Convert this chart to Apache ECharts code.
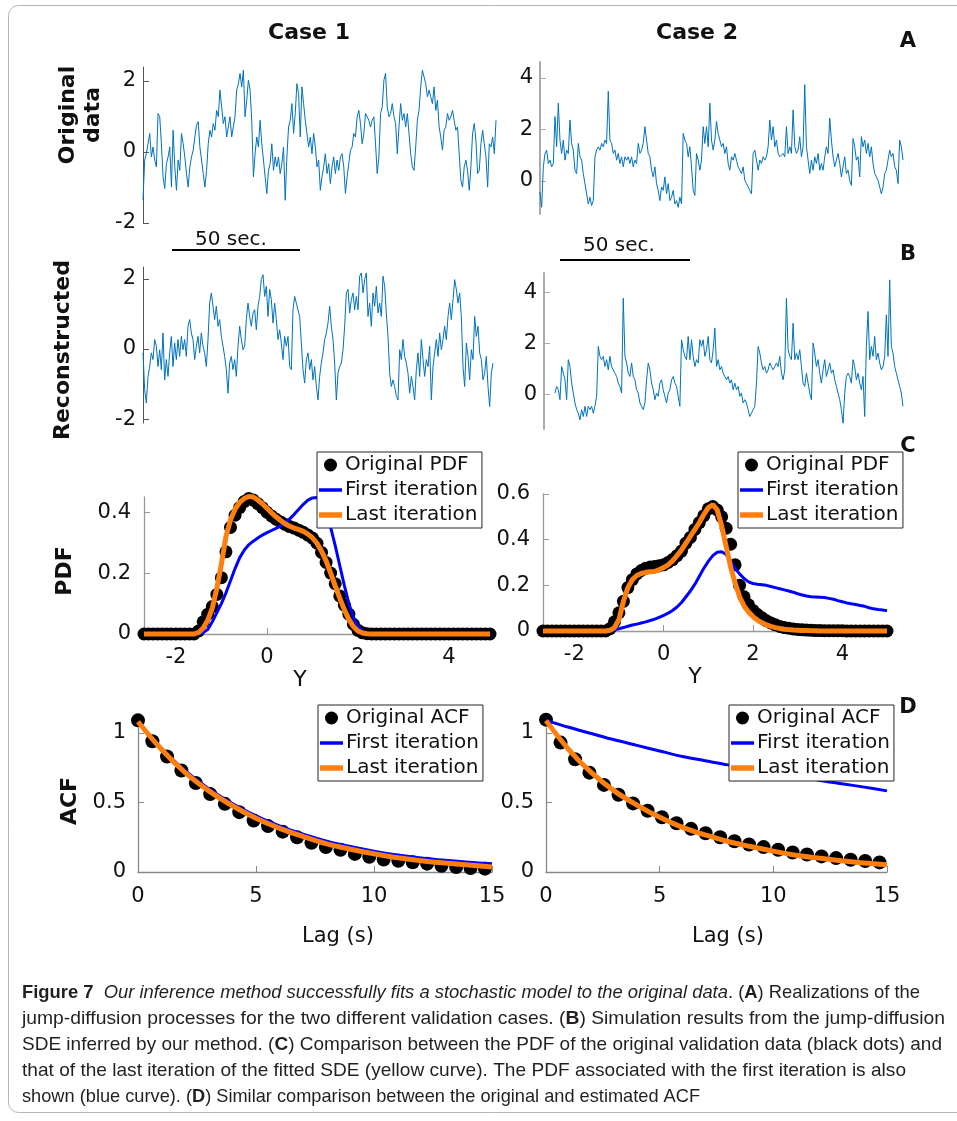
<!DOCTYPE html>
<html><head><meta charset="utf-8">
<script src="https://cdn.jsdelivr.net/npm/echarts@6.0.0/dist/echarts.min.js"></script>
<style>html,body{margin:0;padding:0;background:#fff}#c{width:957px;height:1121px}</style>
</head><body><div id="c"></div>
<script>
// ---------------- DATA ----------------
// (A) original time series, case 1 and case 2 (evenly sampled)
const tsOrig1 = [-1.36,-0.23,-0.05,0.23,0.52,-0.14,0.14,-0.23,-0.42,1.08,0.99,0.23,-0.70,-1.03,-0.33,-0.14,0.14,-0.99,0.61,-0.42,-1.08,-0.23,-0.52,0.52,0.23,-0.14,-0.61,-0.99,-0.42,-0.14,0.05,0.42,0.75,0.85,0.14,-0.23,-0.61,-0.99,-0.52,0.23,0.61,0.42,0.80,0.61,1.17,0.99,1.74,1.27,0.80,0.99,0.42,0.70,0.99,0.42,0.42,0.99,1.74,1.92,2.21,1.83,2.30,0.99,1.46,2.02,1.74,0.89,-0.70,-0.05,0.42,0.14,0.89,0.23,-0.23,-0.70,-1.17,-0.52,-0.33,0.23,-0.52,-0.14,-0.42,-0.14,-0.61,-0.33,0.14,-1.36,-0.14,0.70,0.89,1.36,0.52,1.08,1.92,1.64,0.42,1.83,1.36,0.89,0.52,0.14,0.42,-0.05,0.52,0.14,-0.42,-0.23,-1.08,-0.70,-0.42,-0.05,-0.61,-0.33,-0.89,-0.42,-0.14,-0.61,-0.23,-0.52,-0.14,-0.05,-0.42,-1.17,-0.70,-0.33,0.05,0.14,0.52,0.42,0.99,1.17,0.80,0.23,0.52,1.08,0.99,0.89,0.70,0.89,0.99,0.23,-0.61,-0.14,1.08,1.27,2.02,2.21,1.27,0.99,1.08,1.36,0.99,0.80,-0.05,0.70,1.36,0.89,1.08,0.70,1.08,0.52,-0.05,-0.42,-0.52,0.14,0.89,1.17,1.83,2.30,2.11,1.92,1.55,1.74,1.55,1.36,1.83,1.17,1.46,0.70,0.42,0.05,0.61,0.70,1.08,0.89,0.99,1.17,0.89,0.61,0.70,-0.05,-0.80,-0.99,-0.42,-0.23,-0.52,-1.08,-0.42,0.52,0.80,0.33,-0.61,-0.52,0.23,0.61,0.23,-0.14,-0.99,0.23,0.14,0.42,-0.05,0.89];
const tsOrig2 = [-0.43,-1.02,0.55,1.07,1.20,0.68,0.81,0.55,0.68,2.50,1.33,3.02,1.59,1.07,1.59,0.81,1.20,1.07,2.37,1.46,1.20,0.42,0.29,1.46,0.94,0.81,0.29,-0.10,-0.50,-0.89,-0.63,-0.95,-0.76,0.94,1.20,1.33,1.20,1.46,1.33,1.59,1.46,3.48,1.59,1.46,1.07,1.20,0.81,1.07,0.68,0.94,0.55,0.94,0.81,0.94,0.68,0.94,0.55,0.81,0.68,1.46,1.07,1.20,1.46,2.11,1.59,1.07,0.94,0.42,0.16,0.55,-0.10,-0.36,-0.76,-0.23,-0.36,0.16,-0.50,-0.10,-0.76,-0.63,-0.36,-0.89,-0.76,-1.02,-0.63,-0.89,1.85,1.59,1.46,0.94,1.33,0.55,-0.36,-0.56,1.07,0.81,0.42,0.81,2.11,1.46,2.11,1.33,3.02,1.59,1.20,1.59,2.31,1.85,1.59,1.33,1.46,1.07,1.33,0.68,0.42,0.94,0.81,1.07,0.81,0.55,0.42,0.29,0.55,0.03,-0.10,-0.23,-0.36,-0.50,1.07,1.20,0.81,0.42,0.81,0.68,0.94,0.81,0.94,1.33,2.37,1.59,2.11,1.33,1.59,1.07,0.94,0.94,1.07,0.94,2.11,1.07,1.33,1.07,2.76,1.33,1.07,1.20,1.72,0.94,1.33,3.74,1.33,0.81,0.29,0.81,0.42,0.94,0.68,1.07,0.42,0.68,0.42,0.94,1.33,1.07,2.44,1.59,0.94,0.55,0.81,1.07,0.68,0.16,0.55,0.94,0.29,0.42,0.03,-0.17,1.65,1.33,0.81,0.94,0.16,1.72,1.33,1.59,1.07,1.46,0.94,1.33,0.68,0.29,0.16,0.03,-0.23,-0.50,-0.23,0.29,0.42,0.81,1.20,0.94,1.07,0.55,0.42,-0.10,1.59,1.33,0.81];
// (B) reconstructed time series
const tsRec1 = [-0.11,-1.16,-1.54,-0.78,-0.50,-0.11,-0.30,0.27,0.08,-0.50,-0.02,-0.59,0.46,-0.88,-0.30,-0.78,-0.11,0.36,-0.50,0.17,-0.30,0.27,-0.21,0.36,-0.02,0.27,-0.21,0.65,0.84,0.46,0.27,-0.30,0.08,0.36,-0.11,0.46,0.08,-0.11,-0.50,0.27,1.31,1.60,1.22,0.84,1.22,0.65,0.84,0.36,0.08,-0.21,-0.59,-1.26,-0.40,-0.21,-0.59,-0.30,-0.78,0.08,0.65,0.27,-0.02,0.08,0.84,1.31,0.93,0.65,1.03,1.12,0.55,1.22,1.50,1.98,2.12,1.50,1.79,0.93,1.70,1.41,0.74,1.31,0.84,0.27,0.55,0.17,-0.30,0.36,0.08,0.36,-0.50,-0.59,1.12,1.50,1.31,1.12,0.93,0.17,-0.59,-0.97,-0.30,-0.11,-0.59,-0.30,-0.88,-0.50,-1.07,-1.45,-0.78,-0.40,-0.11,0.27,0.46,0.74,1.22,0.65,0.27,-0.40,-1.45,-0.69,-0.50,-0.40,-0.02,0.65,1.60,1.70,1.03,1.41,1.60,1.12,1.50,1.12,2.08,2.17,1.60,1.98,2.17,0.93,1.31,0.65,1.60,1.22,1.79,1.03,1.31,0.93,2.08,1.79,1.03,0.36,-0.69,-1.07,-0.88,-1.07,-1.35,-1.45,-0.02,-0.30,0.27,-0.21,-0.40,-0.69,-1.26,-0.78,-1.07,-1.45,-0.59,-0.11,-0.78,0.27,-0.30,-0.78,-0.30,-0.50,0.08,-1.45,-0.50,-0.11,0.27,-0.21,0.46,-0.02,0.27,0.65,0.27,0.93,1.31,0.84,1.41,1.98,1.70,1.31,1.60,0.93,-0.50,-1.07,0.17,-0.21,-0.88,-0.02,-0.30,0.93,0.36,0.65,-0.11,-0.30,-0.88,-0.69,-0.21,-1.07,-1.64,-0.69,-0.40];
const tsRec2 = [0.04,0.30,0.17,-0.22,1.08,0.82,0.56,-0.22,1.35,1.08,0.43,0.04,-0.35,-0.61,-0.75,-1.01,-0.61,-0.88,-0.48,-0.88,-0.48,-0.61,-0.48,-0.75,-0.48,-0.09,1.87,1.48,1.35,1.48,1.08,1.35,0.95,1.48,1.08,0.95,0.82,0.69,0.43,0.30,0.04,3.76,1.48,1.22,0.82,0.69,1.22,0.69,0.56,0.17,0.04,-0.35,-0.48,-0.61,-0.35,0.56,1.22,0.95,0.43,0.17,-0.22,0.04,-0.09,0.43,0.56,0.17,-0.09,-0.35,0.04,0.17,0.56,0.69,0.43,0.30,-0.09,-0.48,2.13,1.74,1.48,1.35,2.26,1.35,2.13,1.48,1.08,1.35,1.22,2.13,1.87,2.13,1.48,1.74,2.26,1.35,1.22,1.74,2.59,1.08,1.35,0.95,1.08,0.82,0.69,0.56,0.69,0.43,0.56,0.17,0.43,0.17,0.30,-0.09,0.04,-0.35,-0.22,-0.35,-0.61,-0.88,-0.75,-0.61,-0.48,0.43,1.87,1.61,1.22,0.95,1.08,0.82,0.95,1.22,1.08,0.95,1.08,1.22,1.08,1.48,0.82,0.56,0.95,3.76,1.74,1.48,1.35,2.78,1.35,1.61,1.35,1.74,1.08,0.43,0.30,0.82,0.43,0.04,-0.22,2.00,1.61,1.08,1.35,0.82,0.43,0.95,1.35,0.69,0.95,1.22,0.82,0.95,0.56,0.30,0.04,-0.22,-0.61,-1.14,0.04,0.69,0.82,0.69,0.43,1.35,1.08,0.56,0.82,0.43,0.17,0.69,-0.88,1.87,3.24,1.35,1.87,1.48,2.26,1.35,1.61,1.22,0.95,1.08,1.48,3.11,1.48,4.48,1.87,1.61,1.08,0.82,0.56,0.30,0.04,-0.48];
// (C) PDF
const pdfX1 = [-2.7,-2.6,-2.5,-2.4,-2.3,-2.2,-2.1,-2.0,-1.9,-1.8,-1.7,-1.6,-1.5,-1.4,-1.3,-1.2,-1.1,-1.0,-0.9,-0.8,-0.7,-0.6,-0.5,-0.4,-0.3,-0.2,-0.1,0,0.1,0.2,0.3,0.4,0.5,0.6,0.7,0.8,0.9,1.0,1.1,1.2,1.3,1.4,1.5,1.6,1.7,1.8,1.9,2.0,2.1,2.2,2.3,2.4,2.5,2.6,2.7,2.8,2.9,3.0,3.1,3.2,3.3,3.4,3.5,3.6,3.7,3.8,3.9,4.0,4.1,4.2,4.3,4.4,4.5,4.6,4.7,4.8,4.9];
const pdfOrig1 = [0,0,0,0,0,0,0,0,0,0,0,0,0.01,0.04,0.065,0.09,0.13,0.185,0.27,0.35,0.39,0.415,0.435,0.445,0.44,0.428,0.415,0.4,0.388,0.377,0.368,0.36,0.353,0.348,0.341,0.334,0.325,0.315,0.298,0.268,0.235,0.2,0.165,0.125,0.095,0.065,0.032,0.012,0.004,0.001,0,0,0,0,0,0,0,0,0,0,0,0,0,0,0,0,0,0,0,0,0,0,0,0,0,0,0];
const pdfFirst1 = [0,0,0,0,0,0,0,0,0,0,0,0,0,0.005,0.015,0.04,0.07,0.1,0.135,0.175,0.215,0.25,0.275,0.293,0.305,0.315,0.325,0.333,0.34,0.347,0.355,0.365,0.378,0.393,0.41,0.426,0.44,0.447,0.448,0.435,0.4,0.35,0.29,0.225,0.16,0.1,0.055,0.025,0.01,0.003,0.001,0,0,0,0,0,0,0,0,0,0,0,0,0,0,0,0,0,0,0,0,0,0,0,0,0,0];
const pdfLast1 = [0,0,0,0,0,0,0,0,0,0,0,0,0.005,0.02,0.045,0.085,0.15,0.23,0.32,0.375,0.41,0.432,0.445,0.452,0.45,0.44,0.428,0.413,0.398,0.385,0.373,0.362,0.354,0.348,0.343,0.337,0.328,0.316,0.298,0.272,0.24,0.2,0.158,0.118,0.08,0.048,0.024,0.01,0.003,0.001,0,0,0,0,0,0,0,0,0,0,0,0,0,0,0,0,0,0,0,0,0,0,0,0,0,0,0];
const pdfX2 = [-2.7,-2.6,-2.5,-2.4,-2.3,-2.2,-2.1,-2.0,-1.9,-1.8,-1.7,-1.6,-1.5,-1.4,-1.3,-1.2,-1.1,-1.0,-0.9,-0.8,-0.7,-0.6,-0.5,-0.4,-0.3,-0.2,-0.1,0,0.1,0.2,0.3,0.4,0.5,0.6,0.7,0.8,0.9,1.0,1.1,1.2,1.3,1.4,1.5,1.6,1.7,1.8,1.9,2.0,2.1,2.2,2.3,2.4,2.5,2.6,2.7,2.8,2.9,3.0,3.1,3.2,3.3,3.4,3.5,3.6,3.7,3.8,3.9,4.0,4.1,4.2,4.3,4.4,4.5,4.6,4.7,4.8,4.9,5.0];
const pdfOrig2 = [0,0,0,0,0,0,0,0,0,0,0,0,0,0,0,0.01,0.04,0.08,0.13,0.19,0.225,0.25,0.265,0.275,0.28,0.283,0.286,0.29,0.3,0.313,0.33,0.35,0.385,0.41,0.445,0.475,0.505,0.535,0.545,0.53,0.5,0.45,0.38,0.29,0.2,0.15,0.115,0.09,0.072,0.058,0.045,0.035,0.027,0.02,0.015,0.012,0.009,0.007,0.005,0.004,0.003,0.002,0.002,0.001,0.001,0.001,0.001,0.001,0,0,0,0,0,0,0,0,0,0];
const pdfFirst2 = [0,0,0,0,0,0,0,0,0,0,0,0,0,0,0,0.001,0.005,0.01,0.015,0.021,0.026,0.03,0.035,0.04,0.046,0.052,0.06,0.068,0.078,0.09,0.105,0.125,0.15,0.175,0.205,0.24,0.275,0.305,0.33,0.345,0.347,0.335,0.305,0.275,0.25,0.23,0.215,0.208,0.205,0.203,0.2,0.195,0.19,0.185,0.18,0.175,0.17,0.163,0.158,0.153,0.15,0.149,0.148,0.147,0.143,0.139,0.133,0.128,0.123,0.119,0.116,0.112,0.108,0.102,0.097,0.094,0.092,0.089];
const pdfLast2 = [0,0,0,0,0,0,0,0,0,0,0,0,0,0,0,0.003,0.015,0.05,0.13,0.19,0.225,0.243,0.252,0.257,0.259,0.261,0.268,0.278,0.29,0.307,0.33,0.355,0.385,0.415,0.445,0.475,0.51,0.54,0.553,0.53,0.46,0.37,0.28,0.21,0.15,0.11,0.083,0.063,0.048,0.036,0.027,0.02,0.015,0.011,0.008,0.006,0.004,0.003,0.002,0.002,0.001,0.001,0,0,0,0,0,0,0,0,0,0,0,0,0,0,0,0];
// (D) ACF
const acfLag1 = [0,0.61,1.23,1.84,2.45,3.06,3.68,4.29,4.9,5.51,6.13,6.74,7.35,7.96,8.58,9.19,9.8,10.41,11.03,11.64,12.25,12.86,13.48,14.09,14.7];
const acfOrig1 = [1.09,0.94,0.83,0.73,0.64,0.56,0.49,0.43,0.37,0.33,0.29,0.25,0.21,0.18,0.16,0.13,0.11,0.09,0.08,0.07,0.06,0.045,0.036,0.029,0.024];
const acfLag2 = [0,0.64,1.28,1.91,2.55,3.19,3.83,4.47,5.1,5.74,6.38,7.02,7.66,8.29,8.93,9.57,10.21,10.85,11.48,12.12,12.76,13.4,14.04,14.67];
const acfOrig2 = [1.095,0.93,0.81,0.714,0.626,0.555,0.493,0.44,0.393,0.35,0.31,0.279,0.25,0.221,0.198,0.179,0.16,0.14,0.126,0.112,0.1,0.088,0.079,0.069];
const acfLineLag = [0,1,2,3,4,5,6,7,8,9,10,11,12,13,14,15];
const acfFirst1 = [1.08,0.89,0.728,0.598,0.492,0.403,0.331,0.272,0.222,0.183,0.15,0.123,0.101,0.084,0.07,0.06];
const acfLast1 = [1.08,0.88,0.714,0.583,0.476,0.386,0.314,0.255,0.202,0.164,0.131,0.102,0.081,0.064,0.05,0.036];
const acfFirst2 = [1.09,1.04,0.995,0.95,0.91,0.87,0.83,0.80,0.77,0.745,0.715,0.69,0.66,0.635,0.61,0.583];
const acfLast2 = [1.088,0.88,0.714,0.583,0.481,0.393,0.321,0.267,0.219,0.183,0.15,0.121,0.1,0.081,0.064,0.052];
// tick labels
const tsTicks1 = [-2, 0, 2];
const tsTicks2 = [0, 2, 4];
const pdfXTicks = [-2, 0, 2, 4];
const pdfYTicks1 = [0, 0.2, 0.4];
const pdfYTicks2 = [0, 0.2, 0.4, 0.6];
const acfXTicks = [0, 5, 10, 15];
const acfYTicks = [0, 0.5, 1];
const legendPDF = ['Original PDF', 'First iteration', 'Last iteration'];
const legendACF = ['Original ACF', 'First iteration', 'Last iteration'];

// ---------------- CHART ----------------
const FONT = 'DejaVu Sans';
const TS_COLOR = '#0072BD', BLUE = '#0000FF', ORANGE = '#FF7F0E';
const chart = echarts.init(document.getElementById('c'), null, {renderer: 'canvas'});

const grids = [
  {left: 143, top: 67, width: 353, height: 156},
  {left: 540, top: 62, width: 363, height: 152},
  {left: 143, top: 267, width: 350, height: 156},
  {left: 544, top: 273, width: 359, height: 156},
  {left: 144, top: 497, width: 346, height: 137},
  {left: 543, top: 494, width: 344, height: 137},
  {left: 138, top: 728, width: 354, height: 144},
  {left: 546, top: 728, width: 341, height: 144}
];

function valAxis(gi, min, max, ticks, color, lw, margin) {
  return {
    type: 'value', gridIndex: gi, min: min, max: max,
    axisLine: {show: true, onZero: false, lineStyle: {color: color, width: lw}},
    axisTick: {show: true, inside: true, length: 6, customValues: ticks, lineStyle: {color: color, width: 1}},
    axisLabel: {show: true, customValues: ticks, margin: margin, color: '#111', fontSize: 21, fontFamily: FONT},
    splitLine: {show: false}
  };
}
function hiddenX(gi, min, max) {
  return {type: 'value', gridIndex: gi, min: min, max: max, show: false, splitLine: {show: false}};
}
const yAxes = [
  valAxis(0, -2, 2.39, tsTicks1, '#555', 1, 7),
  valAxis(1, -1.28, 4.62, tsTicks2, '#aaa', 2, 7),
  valAxis(2, -2.11, 2.34, tsTicks1, '#555', 1, 7),
  valAxis(3, -1.37, 4.75, tsTicks2, '#aaa', 2, 7),
  valAxis(4, 0, 0.45, pdfYTicks1, '#999', 1.3, 13),
  valAxis(5, 0, 0.6, pdfYTicks2, '#999', 1.3, 13),
  valAxis(6, 0, 1.035, acfYTicks, '#888', 1.3, 12),
  valAxis(7, 0, 1.035, acfYTicks, '#888', 1.3, 12)
];
const xAxes = [
  hiddenX(0, 0, tsOrig1.length - 1),
  hiddenX(1, 0, tsOrig2.length - 1),
  hiddenX(2, 0, tsRec1.length - 1),
  hiddenX(3, -6.6, tsRec2.length - 1),
  valAxis(4, -2.7, 4.9, pdfXTicks, '#999', 1.3, 13),
  valAxis(5, -2.7, 5.0, pdfXTicks, '#999', 1.3, 13),
  valAxis(6, 0, 15, acfXTicks, '#888', 1.3, 14),
  valAxis(7, 0, 15, acfXTicks, '#888', 1.3, 14)
];

function pairs(xs, ys) { return ys.map((v, i) => [xs[i], v]); }
function idx(ys) { return ys.map((v, i) => [i, v]); }
function tsSeries(name, gi, ys) {
  return {type: 'line', name: name, xAxisIndex: gi, yAxisIndex: gi, data: idx(ys), symbol: 'none',
    lineStyle: {color: TS_COLOR, width: 1}, itemStyle: {color: TS_COLOR}, silent: true};
}
function dots(name, gi, xs, ys, size) {
  return {type: 'scatter', name: name, xAxisIndex: gi, yAxisIndex: gi, data: pairs(xs, ys), symbol: 'circle',
    symbolSize: size, itemStyle: {color: '#000', opacity: 1}, clip: false, silent: true};
}
function curve(name, gi, xs, ys, color, w, smooth) {
  return {type: 'line', name: name, xAxisIndex: gi, yAxisIndex: gi, data: pairs(xs, ys), symbol: 'none',
    smooth: smooth ? 0.35 : false, lineStyle: {color: color, width: w}, itemStyle: {color: color}, clip: false, silent: true};
}

const series = [
  tsSeries('Original data, case 1', 0, tsOrig1),
  tsSeries('Original data, case 2', 1, tsOrig2),
  tsSeries('Reconstructed, case 1', 2, tsRec1),
  tsSeries('Reconstructed, case 2', 3, tsRec2),
  dots('Original PDF', 4, pdfX1, pdfOrig1, 13),
  curve('First iteration', 4, pdfX1, pdfFirst1, BLUE, 3, false),
  curve('Last iteration', 4, pdfX1, pdfLast1, ORANGE, 5, false),
  dots('Original PDF', 5, pdfX2, pdfOrig2, 13),
  curve('First iteration', 5, pdfX2, pdfFirst2, BLUE, 3, false),
  curve('Last iteration', 5, pdfX2, pdfLast2, ORANGE, 5, false),
  dots('Original ACF', 6, acfLag1, acfOrig1, 14),
  curve('First iteration', 6, acfLineLag, acfFirst1, BLUE, 3, true),
  curve('Last iteration', 6, acfLineLag, acfLast1, ORANGE, 5, true),
  dots('Original ACF', 7, acfLag2, acfOrig2, 14),
  curve('First iteration', 7, acfLineLag, acfFirst2, BLUE, 3, true),
  curve('Last iteration', 7, acfLineLag, acfLast2, ORANGE, 5, true)
];

function legend(names, left, top) {
  return {
    data: [
      {name: names[0], icon: 'circle'},
      {name: names[1], icon: 'path://M0,0h23v3.5h-23z'},
      {name: names[2], icon: 'path://M0,0h23v5.5h-23z'}
    ],
    left: left, top: top, orient: 'vertical', selectedMode: false, symbolKeepAspect: true,
    itemWidth: 23, itemHeight: 13, itemGap: 5, padding: [3, 4, 3, 2],
    backgroundColor: '#fff', borderColor: '#262626', borderWidth: 1, borderRadius: 0,
    textStyle: {fontSize: 20, fontFamily: FONT, color: '#111', padding: [0, 0, 0, -2]}
  };
}

// caption
const capLines = [
  '{b|Figure 7}  {i|Our inference method successfully fits a stochastic model to the original data}. ({b|A}) Realizations of the',
  'jump-diffusion processes for the two different validation cases. ({b|B}) Simulation results from the jump-diffusion',
  'SDE inferred by our method. ({b|C}) Comparison between the PDF of the original validation data (black dots) and',
  'that of the last iteration of the fitted SDE (yellow curve). The PDF associated with the first iteration is also',
  'shown (blue curve). ({b|D}) Similar comparison between the original and estimated ACF'
];
const capWidths = [898, 923, 920, 884, 678];
const CAP_FONT = 'Liberation Sans', CAP_SIZE = 19;
const cv = document.createElement('canvas').getContext('2d');
function measureRich(line) {
  const re = /\{(b|i)\|([^}]*)\}|([^{]+)/g;
  let m, w = 0;
  while ((m = re.exec(line))) {
    const st = m[1] === 'b' ? 'bold ' : (m[1] === 'i' ? 'italic ' : '');
    cv.font = st + CAP_SIZE + 'px "' + CAP_FONT + '"';
    w += cv.measureText(m[1] ? m[2] : m[3]).width;
  }
  return w;
}
const capRich = {
  b: {fontWeight: 'bold', fontSize: CAP_SIZE, fontFamily: CAP_FONT, fill: '#231f20'},
  i: {fontStyle: 'italic', fontSize: CAP_SIZE, fontFamily: CAP_FONT, fill: '#231f20'}
};

function txt(t, x, y, size, weight, rot, align) {
  return {type: 'text', x: x, y: y, rotation: rot || 0, silent: true,
    style: {text: t, fontSize: size, fontWeight: weight || 'normal', fontFamily: FONT, fill: '#111',
      align: align || 'center', verticalAlign: 'middle'}};
}
const R = Math.PI / 2;
const graphics = [
  {type: 'rect', shape: {x: 8.5, y: 5.5, width: 965, height: 1107, r: 10}, style: {fill: 'none', stroke: '#b5b5b5', lineWidth: 1}, silent: true, z: -10},
  txt('Case 1', 309, 33, 22, 'bold'),
  txt('Case 2', 697, 33, 22, 'bold'),
  txt('A', 908, 42, 21, 'bold'),
  txt('B', 908, 255, 21, 'bold'),
  txt('C', 908, 447, 21, 'bold'),
  txt('D', 908, 708, 21, 'bold'),
  txt('Original', 68, 115, 22, 'bold', R),
  txt('data', 93, 115, 22, 'bold', R),
  txt('Reconstructed', 63, 350, 22, 'bold', R),
  txt('PDF', 65, 571, 22, 'bold', R),
  txt('ACF', 70, 801, 22, 'bold', R),
  txt('Y', 300, 680, 22),
  txt('Y', 695, 677, 22),
  txt('Lag (s)', 338, 937, 21),
  txt('Lag (s)', 728, 937, 21),
  txt('50 sec.', 231, 240, 20),
  {type: 'line', shape: {x1: 172, y1: 250, x2: 300, y2: 250}, style: {stroke: '#000', lineWidth: 2}, silent: true},
  txt('50 sec.', 619, 246, 20),
  {type: 'line', shape: {x1: 560, y1: 260, x2: 690, y2: 260}, style: {stroke: '#000', lineWidth: 2}, silent: true}
];
capLines.forEach(function (line, k) {
  const s = capWidths[k] / measureRich(line);
  graphics.push({type: 'text', x: 22, y: 993 + 26 * k, scaleX: s, silent: true,
    style: {text: line, rich: capRich, fontSize: CAP_SIZE, fontFamily: CAP_FONT, fill: '#231f20', align: 'left', verticalAlign: 'middle'}});
});

chart.setOption({
  animation: false,
  backgroundColor: '#fff',
  textStyle: {fontFamily: FONT},
  grid: grids,
  xAxis: xAxes,
  yAxis: yAxes,
  legend: [legend(legendPDF, 317, 452), legend(legendPDF, 738, 452), legend(legendACF, 318, 705), legend(legendACF, 729, 705)],
  series: series,
  graphic: graphics
});
</script></body></html>
